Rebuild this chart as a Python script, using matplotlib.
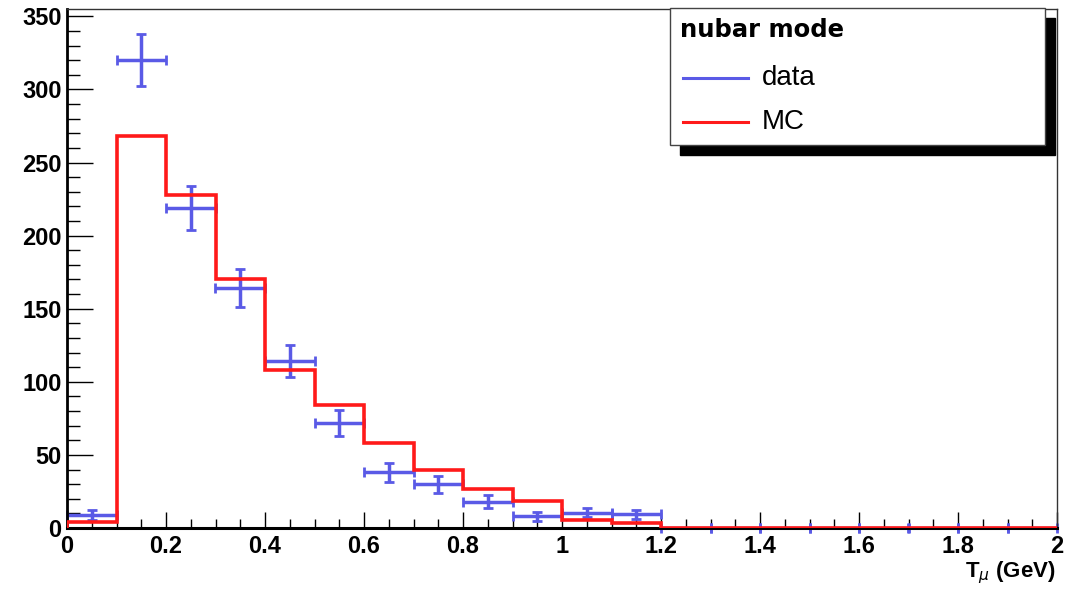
import numpy as np
import matplotlib
matplotlib.use("Agg")
import matplotlib.pyplot as plt
from matplotlib.patches import Rectangle
from matplotlib.lines import Line2D
from matplotlib.ticker import MultipleLocator

# bin edges in T_mu (GeV)
bin_edges = [0.0, 0.1, 0.2, 0.3, 0.4, 0.5, 0.6, 0.7, 0.8, 0.9, 1.0,
             1.1, 1.2, 1.3, 1.4, 1.5, 1.6, 1.7, 1.8, 1.9, 2.0]

# data counts and errors
data_counts = [9, 320, 219, 164, 114, 72, 38, 30, 18, 8, 10.5, 9.5,
               0, 0, 0, 0, 0, 0, 0, 0]
data_errors = [3.4, 18, 15, 13, 11, 9, 6.5, 5.8, 4.3, 3, 3.2, 3.1,
               0, 0, 0, 0, 0, 0, 0, 0]

# MC prediction
mc_counts = [4, 268, 228, 170, 108, 84, 58, 40, 27, 18.5, 5.5, 3.6,
             0, 0, 0, 0, 0, 0, 0, 0]

legend_title = "nubar mode"
legend_labels = ["data", "MC"]

blue = "#5a5ae6"
red = "#ff1a1a"

edges = np.array(bin_edges)
centers = 0.5 * (edges[:-1] + edges[1:])
half_w = 0.5 * np.diff(edges)

fig = plt.figure(figsize=(10.79, 5.89), dpi=100)
ax = fig.add_axes([67 / 1079, 1 - 528 / 589, 990 / 1079, 519 / 589])

## data points with error bars
eb = ax.errorbar(centers, data_counts, xerr=half_w, yerr=data_errors, fmt="none",
                 ecolor=blue, elinewidth=2.5, capsize=3.3, capthick=2, zorder=2)
for art in eb.lines[1]:
    art.set_clip_on(False)

## MC histogram
ax.stairs(mc_counts, edges, color=red, lw=2.6, baseline=0, zorder=3)

ax.set_xlim(0, 2)
ax.set_ylim(0, 355)

ax.xaxis.set_major_locator(MultipleLocator(0.2))
ax.xaxis.set_minor_locator(MultipleLocator(0.05))
ax.yaxis.set_major_locator(MultipleLocator(50))
ax.yaxis.set_minor_locator(MultipleLocator(10))
ax.xaxis.set_major_formatter(plt.FuncFormatter(lambda v, p: "%g" % round(v, 2)))

tick_font = dict(family="Liberation Sans", weight="bold", size=17)
ax.tick_params(axis="y", which="major", direction="in", length=19, width=1, pad=4)
ax.tick_params(axis="y", which="minor", direction="in", length=9.5, width=1)
ax.tick_params(axis="x", which="major", direction="in", length=11.5, width=1, pad=5)
ax.tick_params(axis="x", which="minor", direction="in", length=6.5, width=1)
for lab in ax.get_xticklabels() + ax.get_yticklabels():
    lab.set_fontproperties(matplotlib.font_manager.FontProperties(**tick_font))

ax.spines["left"].set_linewidth(2)
ax.spines["bottom"].set_linewidth(2.2)
ax.spines["top"].set_linewidth(1)
ax.spines["right"].set_linewidth(1)
ax.spines["top"].set_color("#333333")
ax.spines["right"].set_color("#333333")

# x axis title
fig.text(1056 / 1079, 1 - 577 / 589, r"T$_{\mu}$ (GeV)", ha="right", va="baseline",
         family="Liberation Sans", weight="bold", size=16)

## legend box with ROOT style shadow
sx, sy = 10 / 1079, 10 / 589
bx, by, bw, bh = 670 / 1079, 1 - 145 / 589, 375 / 1079, 137 / 589
fig.patches.append(Rectangle((bx + sx, by - sy), bw, bh, transform=fig.transFigure,
                             facecolor="black", edgecolor="black", zorder=5))
fig.patches.append(Rectangle((bx, by), bw, bh, transform=fig.transFigure,
                             facecolor="white", edgecolor="#444444", lw=1, zorder=6))
fig.text(680 / 1079, 1 - 30 / 589, legend_title, ha="left", va="center",
         family="DejaVu Sans", weight="bold", size=17.5, zorder=7)
for i, (lab, col) in enumerate(zip(legend_labels, [blue, red])):
    yy = 1 - (78 + 44 * i) / 589
    fig.lines.append(Line2D([683 / 1079, 748 / 1079], [yy, yy], transform=fig.transFigure,
                            color=col, lw=2.2, zorder=7))
    fig.text(762 / 1079, yy, lab, ha="left", va="center",
             family="Liberation Sans", size=20, zorder=7)

fig.savefig("out.png", dpi=100)
